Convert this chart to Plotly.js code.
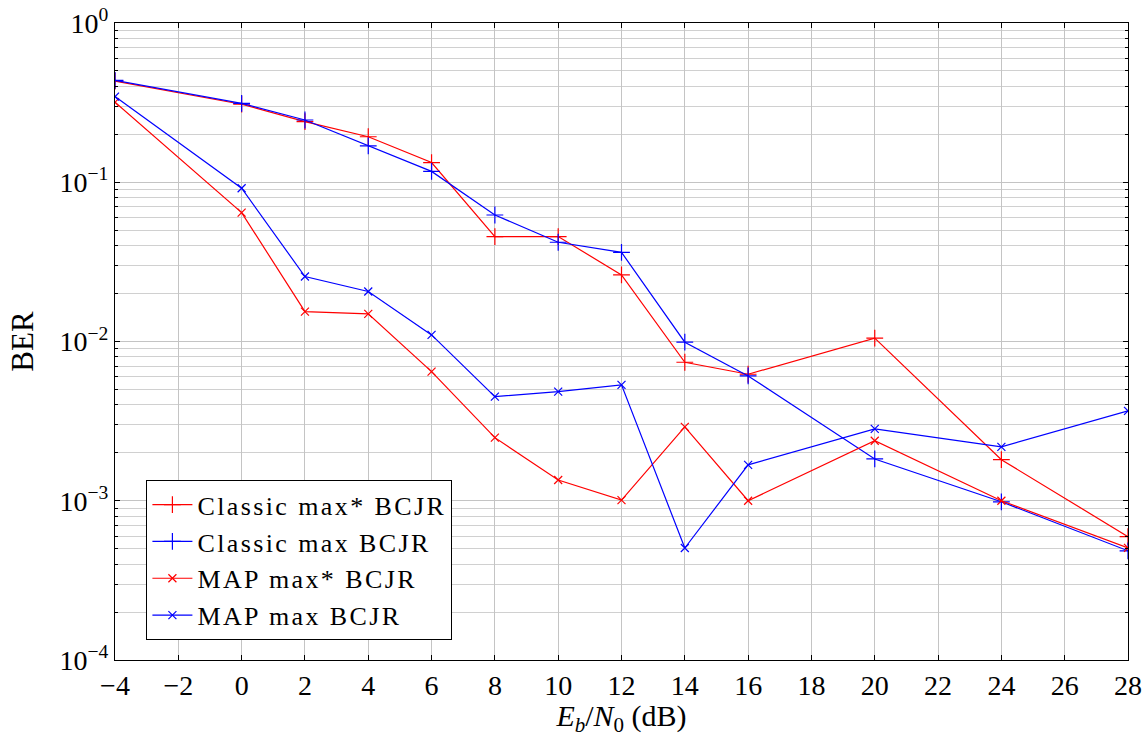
<!DOCTYPE html>
<html>
<head>
<meta charset="utf-8">
<script src="https://cdn.plot.ly/plotly-3.0.1.min.js"></script>
<style>html,body{margin:0;padding:0;background:#fff;}#chart{width:1146px;height:737px;}</style>
</head>
<body>
<div id="chart"></div>
<script>
const ebn0 = [-4, 0, 2, 4, 6, 8, 10, 12, 14, 16, 20, 24, 28];
const classicMaxStar = [0.432, 0.309, 0.240, 0.193, 0.133, 0.0456, 0.0456, 0.0262, 0.00741, 0.00623, 0.0105, 0.00181, 0.000595];
const classicMax = [0.436, 0.313, 0.246, 0.169, 0.117, 0.0623, 0.0420, 0.0363, 0.0099, 0.00608, 0.00183, 0.000985, 0.000485];
const mapMaxStar = [0.318, 0.0645, 0.0154, 0.0149, 0.00647, 0.00249, 0.00135, 0.00101, 0.00291, 0.00100, 0.00238, 0.00100, 0.000506];
const mapMax = [0.345, 0.0917, 0.0256, 0.0206, 0.0110, 0.00451, 0.00485, 0.00534, 0.000505, 0.00168, 0.00283, 0.00218, 0.00367];
const seriesNames = ["Classic max* BCJR", "Classic max BCJR", "MAP max* BCJR", "MAP max BCJR"];
const yTickVals = [1, 0.1, 0.01, 0.001, 0.0001];
const yTickText = ["10<sup>0</sup>", "10<sup>−1</sup>", "10<sup>−2</sup>", "10<sup>−3</sup>", "10<sup>−4</sup>"];
const xTickVals = [-4, -2, 0, 2, 4, 6, 8, 10, 12, 14, 16, 18, 20, 22, 24, 26, 28];
const xTickText = ["−4", "−2", "0", "2", "4", "6", "8", "10", "12", "14", "16", "18", "20", "22", "24", "26", "28"];

const RED = "#ff0000", BLUE = "#0000ff";
function tr(y, name, color, sym, size) {
  return {
    x: ebn0, y: y, type: "scatter", mode: "lines+markers",
    name: '<span style="letter-spacing:2.4px">' + name + '</span>',
    line: {color: color, width: 1.2},
    marker: {symbol: sym, size: size, color: color, line: {color: color, width: 1.2}}
  };
}
const data = [
  tr(classicMaxStar, seriesNames[0], RED, "cross-thin-open", 12),
  tr(classicMax, seriesNames[1], BLUE, "cross-thin-open", 12),
  tr(mapMaxStar, seriesNames[2], RED, "x-thin-open", 8),
  tr(mapMax, seriesNames[3], BLUE, "x-thin-open", 8)
];
const FONT = "Liberation Serif, DejaVu Serif, serif";
const layout = {
  width: 1146, height: 737,
  margin: {l: 115, r: 18, t: 23, b: 77},
  paper_bgcolor: "#fff", plot_bgcolor: "#fff",
  font: {family: FONT, size: 28, color: "#000"},
  showlegend: true,
  legend: {
    x: 0.031, y: 0.031, xanchor: "left", yanchor: "bottom",
    bgcolor: "#fff", bordercolor: "#000", borderwidth: 1,
    font: {family: FONT, size: 26, color: "#000"},
    tracegroupgap: 0, itemwidth: 40
  },
  xaxis: {
    range: [-4, 28], tickvals: xTickVals, ticktext: xTickText,
    showgrid: true, gridcolor: "#c4c4c4", gridwidth: 1,
    zeroline: false, showline: true, linecolor: "#000", linewidth: 1, mirror: "ticks",
    ticks: "inside", ticklen: 5, tickcolor: "#000",
    tickfont: {family: FONT, size: 28, color: "#000"},
    title: {text: "<i>E</i><sub><i>b</i></sub>/<i>N</i><sub>0</sub> (dB)", font: {family: FONT, size: 30, color: "#000"}, standoff: 6}
  },
  yaxis: {
    type: "log", range: [-4, 0], tickvals: yTickVals, ticktext: yTickText,
    showgrid: true, gridcolor: "#c4c4c4", gridwidth: 1,
    zeroline: false, showline: true, linecolor: "#000", linewidth: 1, mirror: "ticks",
    ticks: "inside", ticklen: 5, tickcolor: "#000",
    tickfont: {family: FONT, size: 28, color: "#000"},
    minor: {dtick: "D1", showgrid: true, gridcolor: "#d0d0d0", gridwidth: 1, ticks: "inside", ticklen: 3, tickcolor: "#000"},
    title: {text: "BER", font: {family: FONT, size: 31, color: "#000"}, standoff: 16}
  }
};
Plotly.newPlot("chart", data, layout, {displayModeBar: false, staticPlot: true});
</script>
</body>
</html>
